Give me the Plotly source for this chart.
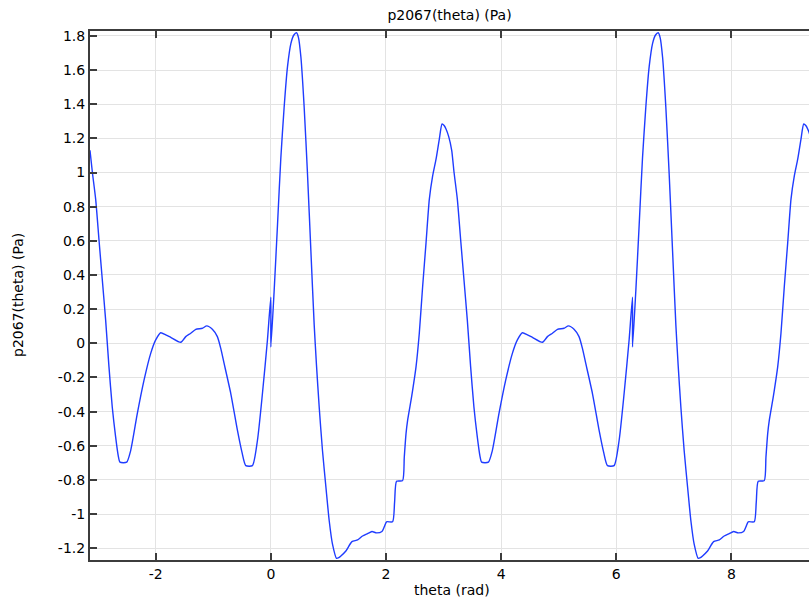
import plotly.graph_objects as go

# theta (rad) and p2067(theta) (Pa)
theta = [
    -3.142, -3.100, -3.043, -2.986, -2.928, -2.870, -2.812, -2.755, -2.696, -2.650,
    -2.621, -2.504, -2.435, -2.320, -2.203, -2.087, -2.000, -1.913, -1.826, -1.739,
    -1.565, -1.478, -1.391, -1.304, -1.190, -1.113, -1.016, -0.929, -0.870, -0.812,
    -0.696, -0.580, -0.500, -0.435, -0.320, -0.233, -0.146, -0.059, 0.000,
    0.000, 0.057, 0.116, 0.174, 0.231, 0.289, 0.348, 0.400, 0.446, 0.480,
    0.522, 0.579, 0.637, 0.696, 0.753, 0.793, 0.840, 0.897, 0.957, 1.014,
    1.071, 1.141, 1.180, 1.217, 1.304, 1.409, 1.507, 1.593, 1.680, 1.757,
    1.837, 1.930, 1.970, 2.010, 2.115, 2.150, 2.184, 2.289, 2.318, 2.348,
    2.376, 2.435, 2.463, 2.522, 2.579, 2.637, 2.696, 2.753, 2.811, 2.870,
    2.927, 2.974, 3.010, 3.043, 3.090, 3.142,
    3.183, 3.240, 3.297, 3.355, 3.413, 3.471, 3.528, 3.587, 3.633,
    3.662, 3.779, 3.848, 3.963, 4.080, 4.196, 4.283, 4.370, 4.457, 4.544,
    4.718, 4.805, 4.892, 4.979, 5.093, 5.170, 5.267, 5.354, 5.413, 5.471,
    5.587, 5.703, 5.783, 5.848, 5.963, 6.050, 6.137, 6.224, 6.283,
    6.283, 6.340, 6.399, 6.457, 6.514, 6.572, 6.631, 6.683, 6.729, 6.763,
    6.805, 6.862, 6.920, 6.979, 7.036, 7.076, 7.123, 7.180, 7.240, 7.297,
    7.354, 7.424, 7.463, 7.500, 7.587, 7.692, 7.790, 7.876, 7.963, 8.040,
    8.120, 8.213, 8.253, 8.293, 8.398, 8.433, 8.467, 8.572, 8.601, 8.631,
    8.659, 8.718, 8.746, 8.805, 8.862, 8.920, 8.979, 9.036, 9.094, 9.153,
    9.210, 9.257, 9.293, 9.326, 9.373, 9.425,
]

p2067 = [
    1.130, 1.000, 0.843, 0.608, 0.372, 0.137, -0.138, -0.373, -0.549, -0.660,
    -0.696, -0.696, -0.628, -0.412, -0.216, -0.059, 0.020, 0.062, 0.050, 0.035,
    0.006, 0.039, 0.059, 0.082, 0.088, 0.102, 0.082, 0.039, -0.030, -0.118,
    -0.294, -0.510, -0.640, -0.716, -0.716, -0.569, -0.294, 0.019, 0.270,
    -0.022, 0.304, 0.696, 1.088, 1.382, 1.618, 1.755, 1.805, 1.818, 1.790,
    1.676, 1.382, 0.990, 0.539, 0.108, -0.128, -0.373, -0.628, -0.843, -1.039,
    -1.176, -1.259, -1.255, -1.245, -1.216, -1.161, -1.151, -1.128, -1.114, -1.102,
    -1.110, -1.102, -1.075, -1.045, -1.045, -0.930, -0.808, -0.804, -0.667, -0.530,
    -0.451, -0.334, -0.275, -0.138, 0.059, 0.333, 0.588, 0.843, 0.980, 1.078,
    1.196, 1.284, 1.275, 1.255, 1.210, 1.130,
    1.000, 0.843, 0.608, 0.372, 0.137, -0.138, -0.373, -0.549, -0.660,
    -0.696, -0.696, -0.628, -0.412, -0.216, -0.059, 0.020, 0.062, 0.050, 0.035,
    0.006, 0.039, 0.059, 0.082, 0.088, 0.102, 0.082, 0.039, -0.030, -0.118,
    -0.294, -0.510, -0.640, -0.716, -0.716, -0.569, -0.294, 0.019, 0.270,
    -0.022, 0.304, 0.696, 1.088, 1.382, 1.618, 1.755, 1.805, 1.818, 1.790,
    1.676, 1.382, 0.990, 0.539, 0.108, -0.128, -0.373, -0.628, -0.843, -1.039,
    -1.176, -1.259, -1.255, -1.245, -1.216, -1.161, -1.151, -1.128, -1.114, -1.102,
    -1.110, -1.102, -1.075, -1.045, -1.045, -0.930, -0.808, -0.804, -0.667, -0.530,
    -0.451, -0.334, -0.275, -0.138, 0.059, 0.333, 0.588, 0.843, 0.980, 1.078,
    1.196, 1.284, 1.275, 1.255, 1.210, 1.130,
]

x_tickvals = [-2, 0, 2, 4, 6, 8]
x_ticktext = ["-2", "0", "2", "4", "6", "8"]
y_tickvals = [-1.2, -1.0, -0.8, -0.6, -0.4, -0.2, 0.0, 0.2, 0.4, 0.6, 0.8, 1.0, 1.2, 1.4, 1.6, 1.8]
y_ticktext = ["-1.2", "-1", "-0.8", "-0.6", "-0.4", "-0.2", "0", "0.2", "0.4", "0.6", "0.8", "1", "1.2", "1.4", "1.6", "1.8"]

FONT = "DejaVu Sans"
FS = 14
AX = "#3c3c3c"

W, H = 809, 602
ML, MR, MT, MB = 90, 0, 31, 42

fig = go.Figure()
fig.add_trace(go.Scatter(
    x=theta, y=p2067, mode="lines",
    line=dict(color="#1f3cff", width=1.4, shape="spline", smoothing=0.6),
    showlegend=False, hoverinfo="skip",
))

pw = W - ML - MR
ph = H - MT - MB

fig.update_layout(
    width=W, height=H,
    margin=dict(l=ML, r=MR, t=MT, b=MB, pad=0),
    paper_bgcolor="white", plot_bgcolor="white",
    font=dict(family=FONT, size=FS, color="#000000"),
    hovermode=False,
    title=dict(text="p2067(theta) (Pa)", x=0.5, xref="paper", xanchor="center",
               y=1 - 15 / H, yref="container", yanchor="middle",
               font=dict(family=FONT, size=FS, color="#000000")),
    xaxis=dict(
        range=[-3.1416, 9.349], tickvals=x_tickvals, ticktext=x_ticktext,
        showgrid=True, gridcolor="#e3e3e3", gridwidth=1, zeroline=False,
        showline=True, linecolor=AX, linewidth=2, mirror="ticks",
        ticks="inside", ticklen=7, tickwidth=2, tickcolor=AX,
        tickfont=dict(family=FONT, size=FS, color="#000000"),
    ),
    yaxis=dict(
        range=[-1.2687, 1.8285], tickvals=y_tickvals, ticktext=y_ticktext,
        showgrid=True, gridcolor="#e3e3e3", gridwidth=1, zeroline=False,
        showline=True, linecolor=AX, linewidth=2,
        ticks="inside", ticklen=7, tickwidth=2, tickcolor=AX,
        tickfont=dict(family=FONT, size=FS, color="#000000"),
    ),
    annotations=[
        dict(text="theta (rad)", x=(452 - 90) / pw, xref="paper",
             y=-(590 - 560) / ph, yref="paper", showarrow=False,
             font=dict(family=FONT, size=FS, color="#000000"),
             xanchor="center", yanchor="middle"),
        dict(text="p2067(theta) (Pa)", x=-(90 - 18) / pw, xref="paper",
             y=(560 - 295) / ph, yref="paper", showarrow=False, textangle=-90,
             font=dict(family=FONT, size=FS, color="#000000"),
             xanchor="center", yanchor="middle"),
    ],
)

fig.write_html(
    "out.html",
    config={"displayModeBar": False},
    post_script="document.body.style.margin='0';document.body.style.overflow='hidden';",
)
